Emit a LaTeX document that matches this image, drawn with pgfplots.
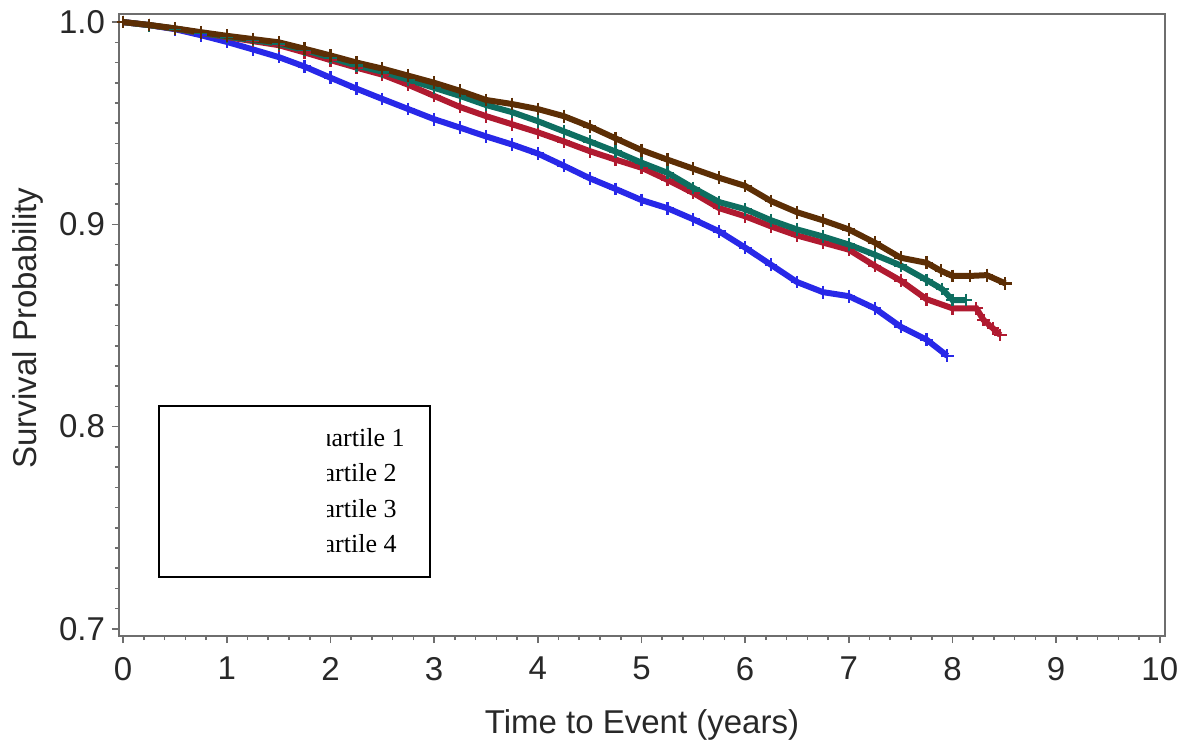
\documentclass[border=0pt]{standalone}
\usepackage{pgfplots}
\pgfplotsset{compat=1.18}
\usepackage{pgfplotstable}
\usepackage{fontspec}
\setmainfont{Liberation Sans}
\newfontfamily\seriffont{Liberation Serif}
\definecolor{qblue}{RGB}{40,40,232}
\definecolor{qred}{RGB}{176,26,48}
\definecolor{qgreen}{RGB}{14,110,96}
\definecolor{qbrown}{RGB}{92,46,5}
\definecolor{axgray}{RGB}{110,110,110}
\definecolor{txt}{RGB}{40,40,40}

\pgfplotstableread{
x y
0 1.0
0.25 0.9985
0.5 0.9965
0.75 0.9935
1.0 0.9902
1.25 0.9865
1.5 0.9827
1.75 0.9780
2.0 0.9725
2.25 0.9671
2.5 0.9620
2.75 0.9570
3.0 0.9520
3.25 0.9478
3.5 0.9435
3.75 0.9395
4.0 0.9350
4.25 0.9290
4.5 0.9228
4.75 0.9175
5.0 0.9120
5.25 0.9080
5.5 0.9025
5.75 0.8965
6.0 0.8885
6.25 0.8800
6.5 0.8715
6.75 0.8665
7.0 0.8645
7.25 0.8585
7.5 0.8494
7.75 0.8430
7.95 0.8350
}\qone

\pgfplotstableread{
x y
0 1.0
0.25 0.9985
0.5 0.9967
0.75 0.9946
1.0 0.9926
1.25 0.9906
1.5 0.9886
1.75 0.9850
2.0 0.9812
2.25 0.9775
2.5 0.9740
2.75 0.9690
3.0 0.9635
3.25 0.9580
3.5 0.9535
3.75 0.9495
4.0 0.9455
4.25 0.9410
4.5 0.9362
4.75 0.9320
5.0 0.9280
5.25 0.9220
5.5 0.9155
5.75 0.9080
6.0 0.9040
6.25 0.8990
6.5 0.8945
6.75 0.8910
7.0 0.8875
7.25 0.8795
7.5 0.8722
7.75 0.8630
8.0 0.8585
8.23 0.8585
8.30 0.8527
8.39 0.8486
8.46 0.8453
}\qtwo

\pgfplotstableread{
x y
0 1.0
0.25 0.9985
0.5 0.9968
0.75 0.9947
1.0 0.9928
1.25 0.9911
1.5 0.9893
1.75 0.9862
2.0 0.9825
2.25 0.9785
2.5 0.9755
2.75 0.9715
3.0 0.9675
3.25 0.9635
3.5 0.9590
3.75 0.9555
4.0 0.9510
4.25 0.9460
4.5 0.9410
4.75 0.9360
5.0 0.9305
5.25 0.9255
5.5 0.9180
5.75 0.9110
6.0 0.9075
6.25 0.9020
6.5 0.8975
6.75 0.8940
7.0 0.8900
7.25 0.8850
7.5 0.8797
7.75 0.8725
7.9 0.8680
8.0 0.8626
8.13 0.8626
}\qthree

\pgfplotstableread{
x y
0 1.0
0.25 0.9986
0.5 0.9969
0.75 0.9950
1.0 0.9932
1.25 0.9916
1.5 0.9900
1.75 0.9868
2.0 0.9835
2.25 0.9800
2.5 0.9770
2.75 0.9735
3.0 0.9700
3.25 0.9660
3.5 0.9615
3.75 0.9595
4.0 0.9570
4.25 0.9535
4.5 0.9484
4.75 0.9425
5.0 0.9367
5.25 0.9320
5.5 0.9275
5.75 0.9230
6.0 0.9190
6.25 0.9115
6.5 0.9060
6.75 0.9020
7.0 0.8975
7.25 0.8910
7.5 0.8835
7.75 0.8810
7.89 0.8770
8.0 0.8745
8.17 0.8745
8.33 0.8749
8.51 0.8708
}\qfour

\begin{document}
\begin{tikzpicture}
\useasboundingbox (-59.5pt,-58.5pt) rectangle (536.5pt,318pt);
\begin{axis}[
  at={(0pt,0pt)}, anchor=south west,
  scale only axis, width=523pt, height=311pt,
  xmin=-0.04, xmax=10.05, ymin=0.6965, ymax=1.004,
  xtick={0,1,...,10}, ytick={0.7,0.8,0.9,1.0},
  minor x tick num=4, minor y tick num=9,
  tick align=outside, tick pos=left,
  major tick length=3.5pt, minor tick length=2pt,
  axis line style={axgray, line width=1pt},
  every tick/.style={axgray, line width=0.8pt},
  /pgf/number format/assume math mode=true,
  yticklabel style={/pgf/number format/.cd, fixed, fixed zerofill, precision=1},
  xticklabel style={yshift=-3.5pt},
  ticklabel style={font=\fontsize{16.5}{18}\selectfont, text=txt},
  xlabel={Time to Event (years)}, ylabel={Survival Probability},
  label style={font=\fontsize{16.5}{18}\selectfont, text=txt},
  xlabel style={at={(axis description cs:0.5,-0.143)}, anchor=center},
  ylabel style={at={(axis description cs:-0.087,0.495)}, anchor=center},
  clip=false,
  every axis plot/.append style={line width=3pt, mark=+, mark size=3.2pt, mark options={line width=1.1pt}},
]
\addplot[qblue] table[x=x,y=y]{\qone};
\addplot[qred] table[x=x,y=y]{\qtwo};
\addplot[qgreen] table[x=x,y=y]{\qthree};
\addplot[qbrown] table[x=x,y=y]{\qfour};
\end{axis}
\draw[black, line width=1pt] (20pt,29.5pt) rectangle (155.5pt,115pt);
\begin{scope}
\clip (104pt,30pt) rectangle (155pt,114pt);
\node[anchor=base east, inner sep=0pt, font=\seriffont\fontsize{13}{14}\selectfont] at (143pt,94.7pt) {Quartile 1};
\node[anchor=base east, inner sep=0pt, font=\seriffont\fontsize{13}{14}\selectfont] at (139pt,77.2pt) {Quartile 2};
\node[anchor=base east, inner sep=0pt, font=\seriffont\fontsize{13}{14}\selectfont] at (139pt,59.4pt) {Quartile 3};
\node[anchor=base east, inner sep=0pt, font=\seriffont\fontsize{13}{14}\selectfont] at (139pt,41.6pt) {Quartile 4};
\end{scope}
\end{tikzpicture}
\end{document}
